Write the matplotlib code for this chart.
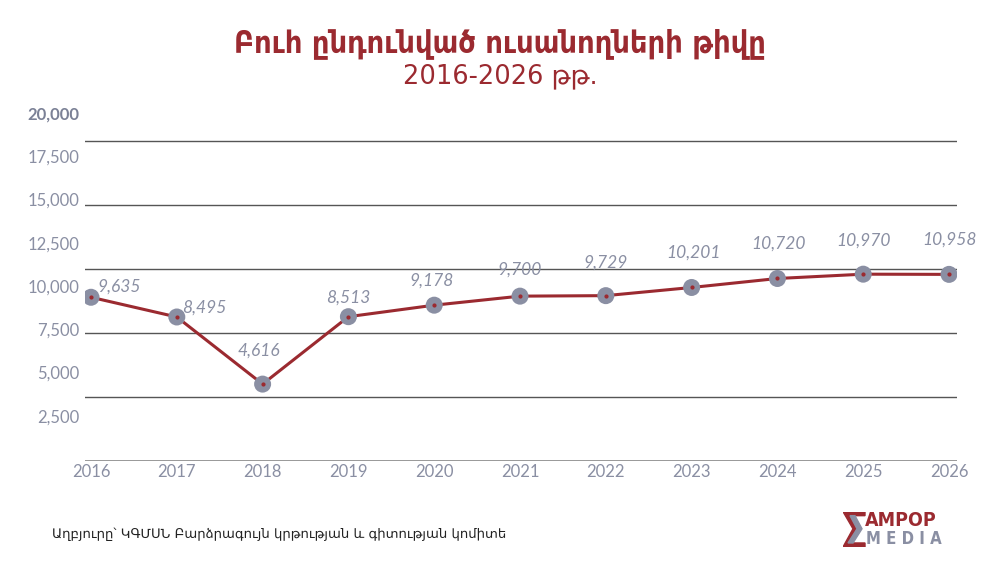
import matplotlib
matplotlib.use("Agg")
import matplotlib.pyplot as plt
from matplotlib.patches import Polygon

# data
years = [2016, 2017, 2018, 2019, 2020, 2021, 2022, 2023, 2024, 2025, 2026]
students = [9635, 8495, 4616, 8513, 9178, 9700, 9729, 10201, 10720, 10970, 10958]
y_labels = [2500, 5000, 7500, 10000, 12500, 15000, 17500, 20000]
grid_values = [3870, 7570, 11270, 14970, 18670]

title = "Բուհ ընդունված ուսանողների թիվը"
subtitle = "2016-2026 թթ."
source = "Աղբյուրը՝ ԿԳՄՍՆ Բարձրագույն կրթության և գիտության կոմիտե"

red = "#9b2a30"
grey = "#8a8fa3"
num_font = ["Lato", "DejaVu Sans"]
arm_font = ["DejaVu Sans"]

# label offsets in points (dx, dy)
label_offsets = [(20, 8), (20, 7), (-3, 24), (0, 14), (-2, 18), (0, 19), (0, 24),
                 (1, 25), (1, 25), (0, 24), (0, 25)]

fig = plt.figure(figsize=(10, 5.71), dpi=100)
ax = fig.add_axes([0.085, 0.1926, 0.872, 0.606])

ax.set_xlim(2015.93, 2026.093)
ax.set_ylim(170, 20170)

for g in grid_values:
    ax.axhline(g, color="#555555", linewidth=1, zorder=1)
ax.axhline(170, color="#888888", linewidth=1.2, zorder=1)

ax.plot(years, students, color=red, linewidth=2.2, zorder=2)
ax.scatter(years, students, s=150, color=grey, zorder=3, edgecolors="none")
ax.scatter(years, students, s=4, color=red, zorder=4)

for x, v, (dx, dy) in zip(years, students, label_offsets):
    ax.annotate(f"{v:,}", (x, v), xytext=(dx, dy), textcoords="offset points",
                ha="center", va="center", fontsize=12.5, style="italic",
                color=grey, family=num_font)

for spine in ax.spines.values():
    spine.set_visible(False)
ax.set_yticks([])
ax.set_xticks(years)
ax.set_xticklabels([str(y) for y in years], fontsize=12, color=grey, family=num_font)
ax.tick_params(axis="x", length=0, pad=2)

for v in y_labels:
    bold = v == 20000
    ax.text(2015.86, v + 200, f"{v:,}", ha="right", va="center",
            fontsize=12, color="#7b8196" if bold else grey,
            fontweight="bold" if bold else "normal", family=num_font,
            transform=ax.transData, clip_on=False)

fig.text(0.5, 0.924, title, ha="center", va="center", fontsize=22,
         fontweight="bold", color=red, family=arm_font, fontstretch="condensed")
fig.text(0.5, 0.866, subtitle, ha="center", va="center", fontsize=18.5,
         color=red, family=arm_font)

fig.text(0.052, 0.064, source, ha="left", va="center", fontsize=9.5,
         color="#222222", family=arm_font)

# logo
lx = fig.add_axes([0.843, 0.042, 0.11, 0.062])
lx.set_xlim(0, 110)
lx.set_ylim(0, 35)
lx.axis("off")
lx.add_patch(Polygon([[0, 35], [22, 35], [22, 31], [7, 31], [14, 18], [4, 4], [22, 4],
                      [22, 0], [0, 0], [10, 18]], closed=True, color=red))
lx.add_patch(Polygon([[7, 31], [12, 31], [19, 18], [10, 4], [5, 4], [14, 18]],
                     closed=True, color=grey))
lx.text(22, 26, "AMPOP", fontsize=14, fontweight="bold", color=red,
        va="center", ha="left", family=["DejaVu Sans"], fontstretch="condensed")
lx.text(23, 8, "M E D I A", fontsize=12, fontweight="bold", color=grey,
        va="center", ha="left", family=["DejaVu Sans"], fontstretch="condensed")

fig.savefig("out.png", dpi=100)
